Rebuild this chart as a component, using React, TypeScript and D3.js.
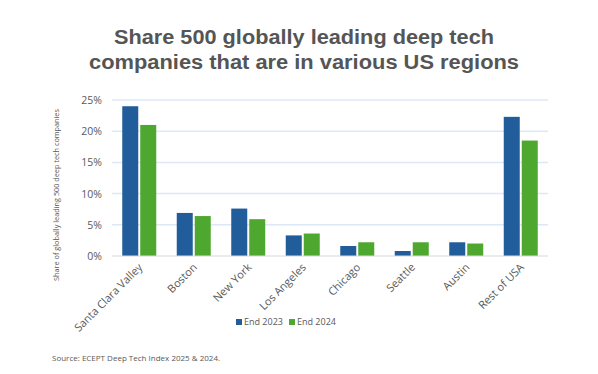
import React from "react";
import * as d3 from "d3";

const categories = ["Santa Clara Valley", "Boston", "New York", "Los Angeles", "Chicago", "Seattle", "Austin", "Rest of USA"];
const end2023 = [24.0, 6.9, 7.6, 3.3, 1.6, 0.8, 2.2, 22.3];
const end2024 = [21.0, 6.4, 5.9, 3.6, 2.2, 2.2, 2.0, 18.5];
const seriesNames = ["End 2023", "End 2024"];
const seriesColors = ["#215d9a", "#4ea72e"];
const yTicks = [0, 5, 10, 15, 20, 25];
const titleLines = ["Share 500 globally leading deep tech", "companies that are in various US regions"];

export default function App() {
  const W = 598, H = 374;
  const left = 112, right = 548, top = 100, bottom = 256;
  const x = d3.scaleBand<string>().domain(categories).range([left, right]);
  const y = d3.scaleLinear().domain([0, 25]).range([bottom, top]);
  const barW = 16, gap = 2;
  const font = "'Open Sans', sans-serif";
  const series = [end2023, end2024];
  const titleWidths = [380, 430];
  return (
    <svg width={W} height={H} style={{ position: "absolute", left: 0, top: 0, background: "#fff" }}>
      {titleLines.map((l, i) => (
        <text key={i} x={304} y={44 + i * 25} textAnchor="middle" textLength={titleWidths[i]} lengthAdjust="spacingAndGlyphs"
          fontFamily="'Liberation Sans', Arial, sans-serif" fontWeight={700} fontSize={20} fill="#555">{l}</text>
      ))}
      {yTicks.filter(t => t > 0).map(t => (
        <line key={t} x1={left} x2={right} y1={y(t)} y2={y(t)} stroke="#dce8f5" strokeWidth={1.5} />
      ))}
      {categories.map((c, i) => {
        const cx = x(c)! + x.bandwidth() / 2;
        return series.map((s, j) => {
          const bx = j === 0 ? cx - gap / 2 - barW : cx + gap / 2;
          return <rect key={c + j} x={bx} y={y(s[i])} width={barW} height={bottom - y(s[i])} fill={seriesColors[j]} />;
        });
      })}
      <line x1={left} x2={right} y1={bottom} y2={bottom} stroke="#d9d9d9" strokeWidth={1} />
      {yTicks.map(t => (
        <text key={t} x={102} y={y(t) + 4} textAnchor="end" fontFamily={font} fontSize={10.5} fill="#595959">{t}%</text>
      ))}
      <text transform={`translate(59,${195}) rotate(-90)`} textAnchor="middle" fontFamily={font} fontSize={7.3} fill="#595959">
        Share of globally leading 500 deep tech companies
      </text>
      {categories.map(c => {
        const cx = x(c)! + x.bandwidth() / 2;
        return (
          <text key={c} transform={`translate(${cx + 4},${bottom + 12}) rotate(-45)`} textAnchor="end" fontFamily={font} fontSize={11} fill="#595959">{c}</text>
        );
      })}
      {seriesNames.map((n, j) => {
        const lx = j === 0 ? 236 : 289;
        return (
          <g key={n}>
            <rect x={lx} y={319} width={6} height={6} fill={seriesColors[j]} />
            <text x={lx + 8} y={325} fontFamily={font} fontSize={9} fill="#595959">{n}</text>
          </g>
        );
      })}
      <text x={52} y={361} fontFamily={font} fontSize={8} fill="#595959">Source: ECEPT Deep Tech Index 2025 &amp; 2024.</text>
    </svg>
  );
}
